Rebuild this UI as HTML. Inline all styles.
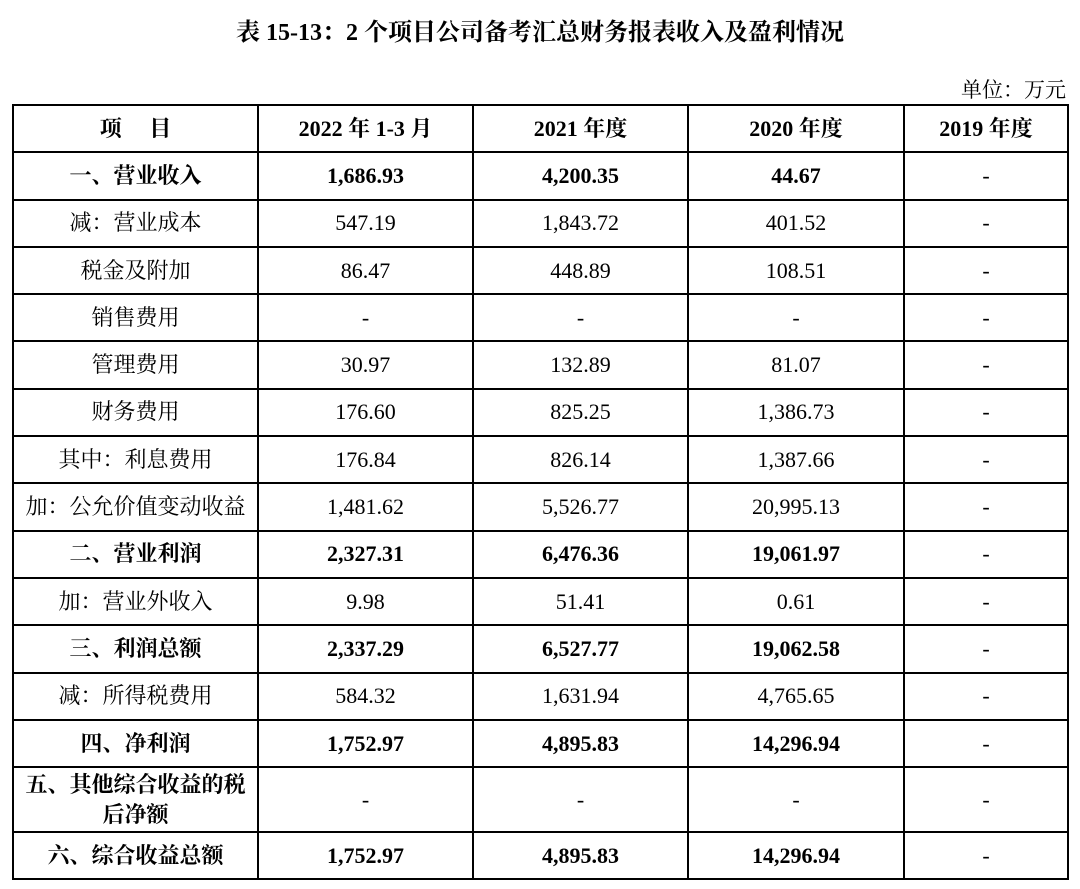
<!DOCTYPE html>
<html><head><meta charset="utf-8"><style>
body{margin:0;width:1080px;height:889px;background:#fff;position:relative;font-family:"Liberation Serif","Noto Serif CJK SC",serif;color:#000}
.t{position:absolute;top:12px;left:0;width:1080px;text-align:center;font-size:24px;font-weight:bold}
.u{position:absolute;top:74px;right:14px;font-size:21px}
table{position:absolute;left:12px;top:104px;border-collapse:collapse;table-layout:fixed}
td{border:2px solid #000;text-align:center;font-size:22px;height:45.3px;padding:0;line-height:24px}
tr.b td{font-weight:bold}
</style></head><body>
<div class="t">表 15-13：2 个项目公司备考汇总财务报表收入及盈利情况</div>
<div class="u">单位：万元</div>
<table>
<colgroup><col style="width:245px"><col style="width:215px"><col style="width:215px"><col style="width:216px"><col style="width:164px"></colgroup>
<tr class="b"><td>项&nbsp;&nbsp;&nbsp;&nbsp;&nbsp;目</td><td>2022 年 1-3 月</td><td>2021 年度</td><td>2020 年度</td><td>2019 年度</td></tr>
<tr class="b"><td>一、营业收入</td><td>1,686.93</td><td>4,200.35</td><td>44.67</td><td style="font-weight:normal">-</td></tr>
<tr><td>减：营业成本</td><td>547.19</td><td>1,843.72</td><td>401.52</td><td>-</td></tr>
<tr><td>税金及附加</td><td>86.47</td><td>448.89</td><td>108.51</td><td>-</td></tr>
<tr><td>销售费用</td><td>-</td><td>-</td><td>-</td><td>-</td></tr>
<tr><td>管理费用</td><td>30.97</td><td>132.89</td><td>81.07</td><td>-</td></tr>
<tr><td>财务费用</td><td>176.60</td><td>825.25</td><td>1,386.73</td><td>-</td></tr>
<tr><td>其中：利息费用</td><td>176.84</td><td>826.14</td><td>1,387.66</td><td>-</td></tr>
<tr><td>加：公允价值变动收益</td><td>1,481.62</td><td>5,526.77</td><td>20,995.13</td><td>-</td></tr>
<tr class="b"><td>二、营业利润</td><td>2,327.31</td><td>6,476.36</td><td>19,061.97</td><td style="font-weight:normal">-</td></tr>
<tr><td>加：营业外收入</td><td>9.98</td><td>51.41</td><td>0.61</td><td>-</td></tr>
<tr class="b"><td>三、利润总额</td><td>2,337.29</td><td>6,527.77</td><td>19,062.58</td><td style="font-weight:normal">-</td></tr>
<tr><td>减：所得税费用</td><td>584.32</td><td>1,631.94</td><td>4,765.65</td><td>-</td></tr>
<tr class="b"><td>四、净利润</td><td>1,752.97</td><td>4,895.83</td><td>14,296.94</td><td style="font-weight:normal">-</td></tr>
<tr><td style="height:63px;font-weight:bold;line-height:30px">五、其他综合收益的税<br>后净额</td><td>-</td><td>-</td><td>-</td><td>-</td></tr>
<tr class="b"><td>六、综合收益总额</td><td>1,752.97</td><td>4,895.83</td><td>14,296.94</td><td style="font-weight:normal">-</td></tr>
</table>
</body></html>
